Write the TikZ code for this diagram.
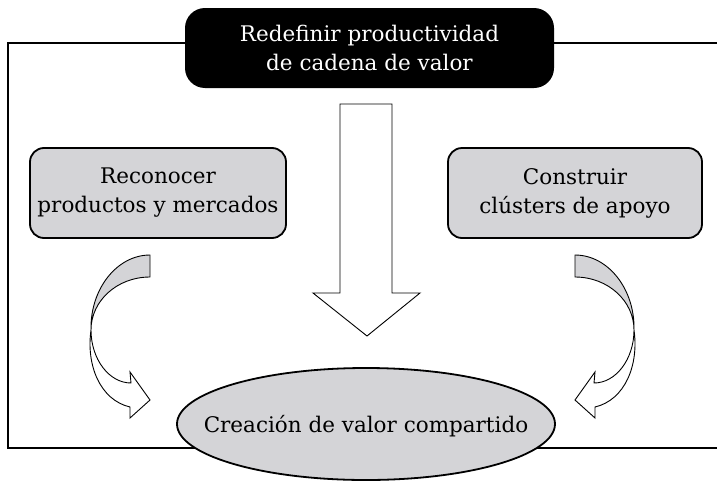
\documentclass[tikz,border=0pt]{standalone}
\usepackage{fontspec}
\setmainfont{DejaVu Serif}
\usetikzlibrary{shapes.geometric}
\definecolor{boxgray}{RGB}{212,212,215}
\tikzset{
  lbl/.style={font=\fontsize{21.5}{29}\selectfont, align=center},
  graybox/.style={lbl, draw=black, line width=1.8pt, fill=boxgray, rounded corners=14pt, minimum height=90pt, inner sep=0pt},
  ribbon/.style={draw=black, line width=0.9pt},
  twist/.pic={
    \path[ribbon, fill=boxgray] (150,255) .. controls (117,255) and (90,289) .. (91,330)
        .. controls (91,301) and (117,277) .. (150,277) -- cycle;
    \path[ribbon, fill=white] (91,330) .. controls (91,359) and (109,383) .. (131,383)
        -- (130,372) -- (150,400) -- (130,418) -- (130,407)
        .. controls (100,400) and (86,365) .. (91,330) -- cycle;
  }
}
\begin{document}
\begin{tikzpicture}[x=1pt,y=-1pt]
\useasboundingbox (0,0) rectangle (717,482);
\draw[line width=2.2pt] (717,43) -- (8,43) -- (8,448) -- (717,448);
\node[lbl, fill=black, text=white, rounded corners=20pt, minimum width=369pt, minimum height=80pt, inner sep=0pt] (top) at (369.5,48) {Redefinir productividad\\de cadena de valor};
\node[graybox, minimum width=256pt] (left) at (158,193) {Reconocer\\productos y mercados};
\node[graybox, minimum width=254pt] (right) at (575,193) {Construir\\clústers de apoyo};
\node[ellipse, draw=black, line width=1.8pt, fill=boxgray, minimum width=378pt, minimum height=112pt, inner sep=0pt] (goal) at (366,424) {};
\node[lbl] (goaltext) at ([yshift=-2pt]goal.center) {Creación de valor compartido};
\path[ribbon, fill=white] (340,104) -- (392,104) -- (392,293) -- (420,293) -- (367,336) -- (313,293) -- (340,293) -- cycle;
\pic at (0,0) {twist};
\pic[xscale=-1] at (725,0) {twist};
\end{tikzpicture}
\end{document}
